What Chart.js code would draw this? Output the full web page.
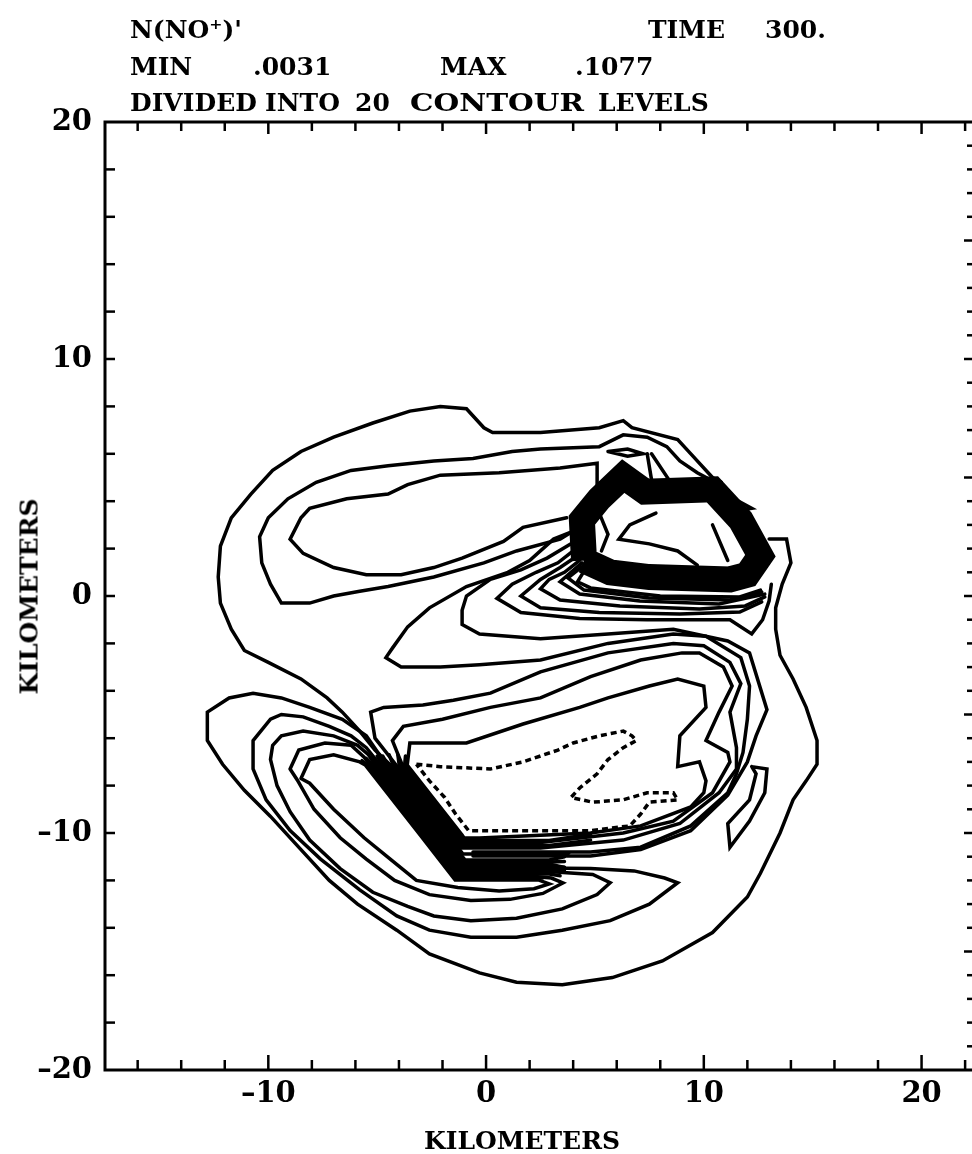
<!DOCTYPE html>
<html><head><meta charset="utf-8">
<script src="https://cdn.jsdelivr.net/npm/chart.js@4.4.1/dist/chart.umd.min.js"></script>
<style>
html,body{margin:0;padding:0;background:#fff;overflow:hidden;width:972px;height:1154px;}
#wrap{position:absolute;left:0;top:0;width:1000px;height:1154px;}
.t{position:absolute;font-family:'DejaVu Serif',serif;font-weight:bold;font-size:25px;line-height:25px;color:#000;white-space:pre;}
.t span{position:absolute;top:0;}
</style></head><body>
<div id="wrap"><canvas id="c" width="1000" height="1154"></canvas></div>
<div class="t" style="left:0;top:17px;width:972px;height:25px"><span style="left:130px">N(NO⁺)'</span> <span style="left:648px">TIME</span> <span style="left:765px">300.</span></div>
<div class="t" style="left:0;top:54px;width:972px;height:25px"><span style="left:130px">MIN</span> <span style="left:253px">.0031</span> <span style="left:440px">MAX</span> <span style="left:575px">.1077</span></div>
<div class="t" style="left:0;top:90px;width:972px;height:25px"><span style="left:130px">DIVIDED</span> <span style="left:265px">INTO</span> <span style="left:355px">20</span> <span style="left:410px;transform:scaleX(1.18);transform-origin:0 0">CONTOUR</span> <span style="left:598px">LEVELS</span></div>
<div class="t" style="left:372px;top:1128px;width:300px;text-align:center">KILOMETERS</div>
<div class="t" style="left:-71px;top:584px;width:200px;text-align:center;transform:rotate(-90deg)">KILOMETERS</div>
<script>
// axis ticks (km)
const xTickLabels = [-10, 0, 10, 20];
const yTickLabels = [-20, -10, 0, 10, 20];
const xTickMarks = [-16,-14,-12,-10,-8,-6,-4,-2,0,2,4,6,8,10,12,14,16,18,20,22];
const yTickMarksLeft = [-18,-16,-14,-12,-10,-8,-6,-4,-2,0,2,4,6,8,10,12,14,16,18];
const yTickMarksRight = [-19,-18,-17,-16,-15,-14,-13,-12,-11,-10,-9,-8,-7,-6,-5,-4,-3,-2,-1,0,1,2,3,4,5,6,7,8,9,10,11,12,13,14,15,16,17,18,19];

// contour lines [x km, y km]
const outerContour = [[13.0,2.4],[13.8,2.4],[14.0,1.4],[13.6,0.5],[13.3,-0.5],[13.3,-1.4],[13.5,-2.5],[14.1,-3.5],[14.7,-4.7],[15.2,-6.1],[15.2,-7.1],[14.7,-7.8],[14.1,-8.6],[13.5,-10.0],[12.6,-11.7],[12.0,-12.7],[10.4,-14.2],[8.1,-15.4],[5.8,-16.1],[3.5,-16.4],[1.4,-16.3],[-0.3,-15.9],[-2.6,-15.1],[-4.1,-14.1],[-5.9,-13.0],[-7.2,-12.0],[-8.5,-10.7],[-9.9,-9.3],[-11.1,-8.2],[-12.1,-7.1],[-12.8,-6.1],[-12.8,-4.9],[-11.8,-4.3],[-10.7,-4.1],[-9.4,-4.3],[-8.1,-4.7],[-6.6,-5.2],[-5.5,-5.9],[-4.9,-6.7],[-4.63,-7.13],[-2.11,-10.08],[-1.06,-11.31],[2.9,-11.31],[3.6,-11.45]];
const upperOuter = [[10.8,4.8],[10.4,5.0],[9.5,5.9],[8.8,6.6],[6.7,7.1],[6.3,7.4],[5.2,7.1],[2.5,6.9],[0.3,6.9],[-0.1,7.1],[-0.9,7.9],[-2.1,8.0],[-3.5,7.8],[-5.2,7.3],[-7.0,6.7],[-8.5,6.1],[-9.8,5.3],[-10.8,4.3],[-11.7,3.3],[-12.2,2.1],[-12.3,0.8],[-12.2,-0.3],[-11.7,-1.4],[-11.1,-2.3],[-10.0,-2.8],[-8.5,-3.5],[-7.3,-4.3],[-6.6,-4.9],[-5.8,-5.7],[-5.1,-6.5],[-4.4,-7.13],[-1.88,-10.08],[-0.96,-11.14],[2.9,-11.14],[3.6,-11.0]];
const upperMiddle = [[10.8,4.8],[10.3,4.9],[9.7,5.2],[8.9,5.7],[8.3,6.3],[7.4,6.7],[6.3,6.8],[5.2,6.3],[2.5,6.2],[1.2,6.1],[-0.6,5.8],[-2.4,5.7],[-4.5,5.5],[-6.2,5.3],[-7.8,4.8],[-9.1,4.1],[-10.0,3.3],[-10.4,2.5],[-10.3,1.4],[-9.9,0.5],[-9.4,-0.3],[-8.1,-0.3],[-7.0,0.0],[-5.8,0.2],[-4.5,0.4],[-2.4,0.8],[-0.1,1.4],[1.4,1.9],[3.4,2.4],[4.1,2.8]];
const upperInner = [[5.1,4.5],[5.1,5.6],[3.4,5.4],[0.6,5.2],[-2.1,5.1],[-3.6,4.7],[-4.5,4.3],[-6.4,4.1],[-8.1,3.7],[-8.5,3.3],[-9.0,2.4],[-8.4,1.8],[-7.0,1.2],[-5.5,0.9],[-3.9,0.9],[-2.4,1.2],[-1.1,1.6],[0.8,2.3],[1.7,2.9],[3.7,3.3]];
const peakRing = [[4.5,1.5],[4.4,3.2],[5.2,4.1],[6.3,5.06],[7.3,4.4],[10.4,4.5],[11.7,3.2],[12.6,1.7],[12.0,0.9],[11.2,0.7],[7.5,0.8],[5.7,1.0],[4.5,1.5]];
const peakInner1 = [[7.8,3.5],[6.6,3.0],[6.1,2.4],[7.5,2.2],[8.8,1.9],[9.7,1.3]];
const peakInner2 = [[5.2,3.5],[5.6,2.6],[5.3,1.9]];
const peakInner3 = [[10.4,3.0],[11.1,1.5]];
const smallTriangle = [[11.2,4.2],[12.2,3.7],[11.5,3.6],[11.2,4.2]];
const smallOval = [[5.6,6.1],[6.5,6.2],[7.2,6.0],[6.5,5.9],[5.6,6.1]];
const stubA = [[7.4,6.0],[7.6,4.9]];
const stubB = [[7.6,6.0],[8.4,4.9]];
const tongue1 = [[3.9,2.7],[3.1,2.4],[2.0,1.5],[1.0,1.0],[-0.9,0.4],[-2.6,-0.5],[-3.6,-1.3],[-4.3,-2.2],[-4.6,-2.6],[-3.9,-3.0],[-2.1,-3.0],[-0.3,-2.9],[2.5,-2.7],[5.6,-2.0],[8.6,-1.6],[10.1,-1.7],[11.7,-2.6],[12.1,-3.8],[12.0,-5.2],[11.8,-6.6],[11.5,-7.5],[11.1,-8.3],[9.4,-9.7],[7.1,-10.6],[4.8,-10.8],[2.5,-10.8],[-0.6,-10.8]];
const tongue2 = [[3.9,2.2],[2.8,1.6],[1.6,1.1],[0.2,0.7],[-0.9,0.0],[-1.1,-0.6],[-1.1,-1.2],[-0.3,-1.6],[2.5,-1.8],[5.6,-1.6],[8.6,-1.4],[11.1,-1.9],[12.1,-2.4],[12.9,-4.8],[12.4,-5.9],[12.0,-7.0],[11.1,-8.4],[9.4,-9.9],[7.1,-10.7],[4.8,-10.97],[2.5,-10.97],[-0.6,-10.97]];
const tongue3 = [[4.0,1.9],[3.3,1.4],[2.3,1.0],[1.2,0.5],[0.5,-0.1],[1.6,-0.7],[4.3,-0.95],[7.4,-1.0],[10.1,-1.0],[11.2,-1.0],[12.2,-1.6],[12.7,-1.0],[13.0,-0.2],[13.1,0.5]];
const tongue4 = [[4.2,1.7],[3.4,1.2],[2.5,0.7],[1.6,0.0],[2.5,-0.5],[5.2,-0.7],[8.9,-0.76],[11.65,-0.68],[12.66,-0.25]];
const tongue5 = [[4.3,1.5],[3.6,1.0],[2.9,0.7],[2.5,0.3],[3.4,-0.17],[6.15,-0.42],[9.8,-0.55],[11.9,-0.42],[12.8,-0.04]];
const tongue6 = [[4.4,1.4],[3.9,1.0],[3.4,0.6],[4.3,0.08],[7.06,-0.21],[10.7,-0.34],[12.8,0.08]];
const tongue7 = [[4.5,1.3],[3.76,0.76],[4.5,0.25],[7.5,-0.08],[11.2,-0.17],[12.66,0.17]];
const tongue8 = [[4.6,1.2],[4.2,0.6],[4.8,0.34],[8.0,0.0],[11.65,-0.04],[12.6,0.25]];
const middleInner = [[-3.62,-7.13],[-3.5,-6.2],[-0.9,-6.2],[1.7,-5.4],[4.3,-4.7],[5.6,-4.3],[7.5,-3.8],[8.8,-3.5],[10.0,-3.8],[10.1,-4.7],[8.9,-5.9],[8.8,-7.2],[9.8,-7.0],[10.1,-7.8],[10.0,-8.3],[9.4,-8.9],[7.1,-9.7],[4.8,-10.0],[2.5,-10.1],[-0.3,-10.21],[-1.01,-10.21],[-1.10,-10.08],[-3.62,-7.13]];
const middleSecond = [[-3.85,-7.13],[-4.3,-6.1],[-3.8,-5.5],[-2.0,-5.2],[0.2,-4.7],[2.5,-4.3],[4.8,-3.4],[7.1,-2.7],[9.0,-2.4],[9.8,-2.4],[10.9,-3.0],[11.3,-3.8],[10.7,-4.9],[10.1,-6.1],[11.1,-6.6],[11.2,-7.0],[10.4,-8.3],[8.6,-9.5],[6.3,-10.0],[2.5,-10.4],[-0.3,-10.42],[-1.05,-10.42],[-1.33,-10.08],[-3.85,-7.13]];
const middleThird = [[-4.13,-7.13],[-5.1,-6.0],[-5.3,-4.9],[-4.7,-4.7],[-2.9,-4.6],[-1.5,-4.4],[0.2,-4.1],[2.5,-3.2],[5.6,-2.4],[8.6,-2.0],[10.0,-2.1],[11.2,-2.8],[11.7,-3.7],[11.2,-4.9],[11.5,-6.4],[11.5,-7.3],[10.7,-8.3],[8.9,-9.6],[6.3,-10.3],[2.5,-10.63],[-0.3,-10.63],[-1.15,-10.63],[-1.61,-10.08],[-4.13,-7.13]];
const smallRightLoop = [[12.2,-7.2],[12.9,-7.3],[12.8,-8.3],[12.1,-9.5],[11.2,-10.6],[11.1,-9.6],[12.1,-8.6],[12.4,-7.5],[12.2,-7.2]];
const lowerLoop2 = [[-10.7,-6.1],[-9.9,-5.2],[-9.4,-5.0],[-8.4,-5.1],[-7.2,-5.5],[-6.2,-5.9],[-5.5,-6.4],[-4.86,-7.13],[-2.34,-10.08],[-1.15,-11.48],[0.6,-11.48],[2.5,-11.48],[4.8,-11.5],[6.8,-11.6],[8.2,-11.9],[8.8,-12.1],[7.5,-13.0],[5.7,-13.7],[3.5,-14.1],[1.4,-14.4],[-0.7,-14.4],[-2.6,-14.1],[-4.1,-13.5],[-5.8,-12.4],[-7.6,-11.1],[-9.0,-9.9],[-10.1,-8.6],[-10.7,-7.3],[-10.7,-6.1]];
const lowerLoop3 = [[-9.8,-6.3],[-9.4,-5.9],[-8.4,-5.7],[-7.0,-5.9],[-5.9,-6.3],[-5.4,-6.7],[-5.09,-7.13],[-2.57,-10.08],[-1.24,-11.65],[0.9,-11.65],[3.2,-11.65],[4.9,-11.75],[5.7,-12.1],[5.1,-12.6],[3.5,-13.2],[1.4,-13.6],[-0.7,-13.7],[-2.4,-13.5],[-3.6,-13.1],[-5.2,-12.5],[-6.7,-11.5],[-8.1,-10.3],[-9.0,-9.1],[-9.6,-8.0],[-9.9,-6.9],[-9.8,-6.3]];
const lowerLoop4 = [[-9.0,-7.3],[-8.6,-6.5],[-7.4,-6.2],[-6.2,-6.3],[-5.6,-6.8],[-5.32,-7.13],[-2.80,-10.08],[-1.33,-11.81],[0.1,-11.81],[2.0,-11.81],[3.0,-11.9],[3.53,-12.11],[2.61,-12.55],[1.1,-12.8],[-0.7,-12.85],[-2.6,-12.6],[-4.2,-12.0],[-5.5,-11.1],[-6.7,-10.2],[-7.9,-9.0],[-8.67,-7.76],[-9.0,-7.3]];
const lowerLoop5 = [[-8.5,-7.7],[-8.1,-6.9],[-7.0,-6.7],[-5.8,-7.0],[-5.55,-7.13],[-3.03,-10.08],[-1.42,-11.98],[2.4,-11.98],[2.9,-12.15],[2.2,-12.35],[0.6,-12.45],[-1.3,-12.3],[-3.2,-12.0],[-4.4,-11.1],[-5.6,-10.2],[-7.0,-9.0],[-8.1,-7.9],[-8.5,-7.7]];
const steepBandLines = [
  [[-3.7,-6.75],[-3.74,-7.13],[-1.22,-10.08],[-1.02,-10.32],[2.9,-10.32],[4.8,-10.05]],
  [[-4.05,-6.7],[-3.99,-7.13],[-1.47,-10.08],[-1.09,-10.53],[2.9,-10.53],[4.8,-10.3]],
  [[-4.45,-6.7],[-4.27,-7.13],[-1.74,-10.08],[-1.06,-10.89],[2.9,-10.89],[3.8,-10.85]],
  [[-4.75,-6.75],[-4.52,-7.13],[-2.00,-10.08],[-1.03,-11.22],[2.9,-11.22],[3.6,-11.2]],
  [[-5.0,-6.75],[-4.75,-7.13],[-2.22,-10.08],[-1.12,-11.39],[2.9,-11.39],[3.6,-11.45]],
  [[-5.25,-6.8],[-4.98,-7.13],[-2.45,-10.08],[-1.20,-11.56],[2.9,-11.56],[3.6,-11.6]],
  [[-5.5,-6.85],[-5.21,-7.13],[-2.68,-10.08],[-1.29,-11.73],[2.9,-11.73],[3.4,-11.8]],
  [[-5.7,-6.95],[-5.44,-7.13],[-2.91,-10.08],[-1.38,-11.90],[2.6,-11.90]]
];
const dottedLoop = [[-3.2,-7.1],[-2.1,-7.2],[0.2,-7.3],[1.7,-7.0],[3.3,-6.5],[4.0,-6.2],[5.2,-5.9],[6.3,-5.7],[6.7,-5.9],[6.9,-6.1],[6.3,-6.4],[5.6,-6.9],[5.1,-7.5],[4.3,-8.1],[3.9,-8.5],[4.9,-8.7],[6.3,-8.6],[7.4,-8.3],[8.6,-8.3],[8.8,-8.6],[7.5,-8.7],[7.1,-9.2],[6.6,-9.7],[4.8,-9.9],[2.5,-9.9],[-0.8,-9.9],[-1.4,-9.2],[-1.9,-8.5],[-2.6,-7.8],[-3.2,-7.1]];

const solidLines = [outerContour, upperOuter, upperMiddle, upperInner, peakInner1, peakInner2, peakInner3,
  smallTriangle, smallOval, stubA, stubB, tongue1, tongue2, tongue3, tongue4, tongue5, tongue6, tongue7, tongue8,
  middleInner, middleSecond, middleThird, smallRightLoop, lowerLoop2, lowerLoop3, lowerLoop4, lowerLoop5, ...steepBandLines];

const toXY = a => a.map(p => ({x: p[0], y: p[1]}));
const datasets = solidLines.map(l => ({data: toXY(l), showLine: true, pointRadius: 0, borderColor: '#000', borderWidth: 3.5, borderJoinStyle: 'miter', borderCapStyle: 'round', fill: false, tension: 0}));
datasets.push({data: toXY(peakRing), showLine: true, pointRadius: 0, borderColor: '#000', borderWidth: 26, borderJoinStyle: 'miter', fill: false, tension: 0});
datasets.push({data: toXY(dottedLoop), showLine: true, pointRadius: 0, borderColor: '#000', borderWidth: 3.5, borderDash: [6, 4], fill: false, tension: 0});

const FONT = "'DejaVu Serif',serif";

const framePlugin = {
  id: 'frame',
  afterDatasetsDraw(chart) {
    const {ctx, chartArea: a, scales: {x, y}} = chart;
    ctx.save();
    ctx.strokeStyle = '#000';
    ctx.lineWidth = 3;
    ctx.strokeRect(a.left, a.top, a.right - a.left, a.bottom - a.top);
    ctx.lineWidth = 2.5;
    const seg = (x1, y1, x2, y2) => { ctx.beginPath(); ctx.moveTo(x1, y1); ctx.lineTo(x2, y2); ctx.stroke(); };
    xTickMarks.forEach(v => {
      const px = x.getPixelForValue(v);
      const major = xTickLabels.includes(v);
      seg(px, a.bottom, px, a.bottom - (major ? 15 : 10));
      seg(px, a.top, px, a.top + (major ? 12 : 9));
    });
    yTickMarksLeft.forEach(v => { const py = y.getPixelForValue(v); seg(a.left, py, a.left + 10, py); });
    yTickMarksRight.forEach(v => { const py = y.getPixelForValue(v); seg(a.right, py, a.right - (v % 5 === 0 ? 12 : 9), py); });
    ctx.restore();
  }
};

const fmt = v => String(v).replace('-', '\u2013');

new Chart(document.getElementById('c'), {
  type: 'scatter',
  data: {datasets},
  options: {
    responsive: false,
    animation: false,
    events: [],
    layout: {padding: {top: 122, right: 24, left: 0, bottom: 0}},
    plugins: {legend: {display: false}, tooltip: {enabled: false}, title: {display: false}},
    scales: {
      x: {
        type: 'linear', min: -17.5, max: 22.5,
        grid: {display: false, drawTicks: false}, border: {display: false},
        afterBuildTicks: s => { s.ticks = xTickLabels.map(v => ({value: v})); },
        afterFit: s => { s.height = 84; },
        ticks: {color: '#000', padding: 7, maxRotation: 0, font: {family: FONT, weight: 'bold', size: 29}, callback: fmt}
      },
      y: {
        type: 'linear', min: -20, max: 20,
        grid: {display: false, drawTicks: false}, border: {display: false},
        afterBuildTicks: s => { s.ticks = yTickLabels.map(v => ({value: v})); },
        afterFit: s => { s.width = 105; },
        ticks: {color: '#000', padding: 13, font: {family: FONT, weight: 'bold', size: 29}, callback: fmt}
      }
    }
  },
  plugins: [framePlugin]
});
</script>
</body></html>
